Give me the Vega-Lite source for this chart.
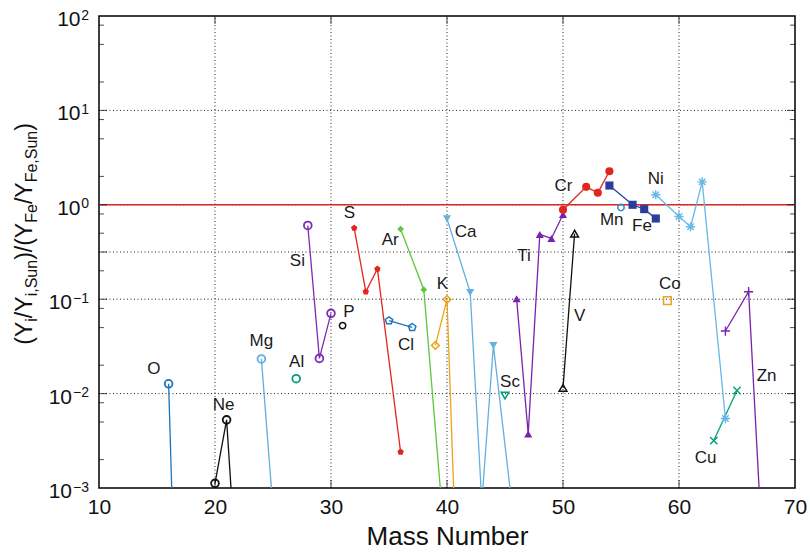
{
  "$schema": "https://vega.github.io/schema/vega-lite/v6.json",
  "width": 696,
  "height": 472,
  "autosize": {"type": "none"},
  "padding": {"left": 99, "top": 16, "right": 15, "bottom": 64},
  "background": "white",
  "config": {
    "view": {"stroke": "#000", "strokeWidth": 1.5},
    "font": "Liberation Sans",
    "axisX": {
      "title": "Mass Number", "titleFontSize": 26, "titleFont": "Liberation Sans",
      "titleFontWeight": "normal", "titleColor": "#111", "titlePadding": 6,
      "labelFontSize": 21, "labelFont": "Liberation Sans", "labelColor": "#111",
      "labelPadding": 8, "labelFlush": false, "labelOverlap": false,
      "ticks": false, "domain": false, "grid": false
    }
  },
  "datasets": {
    "iso": [
      {"el": "O", "A": 16, "v": 0.0127}, {"el": "O", "A": 17, "v": 0.000001},
      {"el": "Ne", "A": 20, "v": 0.00112}, {"el": "Ne", "A": 21, "v": 0.00527}, {"el": "Ne", "A": 22, "v": 0.000066},
      {"el": "Mg", "A": 24, "v": 0.0233}, {"el": "Mg", "A": 25, "v": 0.0006},
      {"el": "Al", "A": 27, "v": 0.0144},
      {"el": "Si", "A": 28, "v": 0.604}, {"el": "Si", "A": 29, "v": 0.0236}, {"el": "Si", "A": 30, "v": 0.0708},
      {"el": "P", "A": 31, "v": 0.0525},
      {"el": "S", "A": 32, "v": 0.567}, {"el": "S", "A": 33, "v": 0.12}, {"el": "S", "A": 34, "v": 0.209}, {"el": "S", "A": 36, "v": 0.00241},
      {"el": "Cl", "A": 35, "v": 0.0592}, {"el": "Cl", "A": 37, "v": 0.0503},
      {"el": "Ar", "A": 36, "v": 0.553}, {"el": "Ar", "A": 38, "v": 0.126}, {"el": "Ar", "A": 40, "v": 0.00014},
      {"el": "K", "A": 39, "v": 0.0324}, {"el": "K", "A": 40, "v": 0.0995}, {"el": "K", "A": 41, "v": 0.00003},
      {"el": "Ca", "A": 40, "v": 0.711}, {"el": "Ca", "A": 42, "v": 0.118}, {"el": "Ca", "A": 43, "v": 0.0007}, {"el": "Ca", "A": 44, "v": 0.0324}, {"el": "Ca", "A": 46, "v": 0.00025},
      {"el": "Sc", "A": 45, "v": 0.00953},
      {"el": "Ti", "A": 46, "v": 0.101}, {"el": "Ti", "A": 47, "v": 0.00374}, {"el": "Ti", "A": 48, "v": 0.485}, {"el": "Ti", "A": 49, "v": 0.44}, {"el": "Ti", "A": 50, "v": 0.79},
      {"el": "V", "A": 50, "v": 0.0115}, {"el": "V", "A": 51, "v": 0.495},
      {"el": "Cr", "A": 50, "v": 0.885}, {"el": "Cr", "A": 52, "v": 1.55}, {"el": "Cr", "A": 53, "v": 1.34}, {"el": "Cr", "A": 54, "v": 2.27},
      {"el": "Mn", "A": 55, "v": 0.937},
      {"el": "Fe", "A": 54, "v": 1.6}, {"el": "Fe", "A": 56, "v": 1.0}, {"el": "Fe", "A": 57, "v": 0.9}, {"el": "Fe", "A": 58, "v": 0.716},
      {"el": "Co", "A": 59, "v": 0.0964},
      {"el": "Ni", "A": 58, "v": 1.28}, {"el": "Ni", "A": 60, "v": 0.752}, {"el": "Ni", "A": 61, "v": 0.585}, {"el": "Ni", "A": 62, "v": 1.75}, {"el": "Ni", "A": 64, "v": 0.00544},
      {"el": "Cu", "A": 63, "v": 0.00318}, {"el": "Cu", "A": 65, "v": 0.0108},
      {"el": "Zn", "A": 64, "v": 0.046}, {"el": "Zn", "A": 66, "v": 0.12}, {"el": "Zn", "A": 67, "v": 0.0006}
    ],
    "labels": [
      {"el": "O", "A": 14.74, "v": 0.0182},
      {"el": "Ne", "A": 20.75, "v": 0.00765},
      {"el": "Mg", "A": 24.0, "v": 0.0357},
      {"el": "Al", "A": 27.04, "v": 0.0214},
      {"el": "Si", "A": 27.1, "v": 0.251},
      {"el": "P", "A": 31.55, "v": 0.0732},
      {"el": "S", "A": 31.58, "v": 0.817},
      {"el": "Ar", "A": 35.11, "v": 0.42},
      {"el": "Cl", "A": 36.47, "v": 0.0324},
      {"el": "K", "A": 39.6, "v": 0.146},
      {"el": "Ca", "A": 41.6, "v": 0.518},
      {"el": "Ti", "A": 46.64, "v": 0.284},
      {"el": "Sc", "A": 45.43, "v": 0.0132},
      {"el": "V", "A": 51.44, "v": 0.0658},
      {"el": "Cr", "A": 50.03, "v": 1.6},
      {"el": "Mn", "A": 54.2, "v": 0.694},
      {"el": "Fe", "A": 56.81, "v": 0.59},
      {"el": "Ni", "A": 57.99, "v": 1.88},
      {"el": "Co", "A": 59.22, "v": 0.145},
      {"el": "Cu", "A": 62.3, "v": 0.00207},
      {"el": "Zn", "A": 67.55, "v": 0.0152}
    ],
    "ylab": [
      {"v": 100, "e": "2"}, {"v": 10, "e": "1"}, {"v": 1, "e": "0"},
      {"v": 0.1, "e": "−1"}, {"v": 0.01, "e": "−2"}, {"v": 0.001, "e": "−3"}
    ],
    "gx": [{"A": 20}, {"A": 30}, {"A": 40}, {"A": 50}, {"A": 60}],
    "gy": [{"v": 10}, {"v": 1}, {"v": 0.316}, {"v": 0.1}, {"v": 0.01}],
    "minor": [
      {"v": 0.002}, {"v": 0.005}, {"v": 0.008},
      {"v": 0.02}, {"v": 0.05}, {"v": 0.08},
      {"v": 0.2}, {"v": 0.5}, {"v": 0.8},
      {"v": 2}, {"v": 5}, {"v": 8},
      {"v": 20}, {"v": 50}, {"v": 80}
    ]
  },
  "layer": [
    {
      "data": {"name": "gx"},
      "mark": {"type": "rule", "strokeDash": [1, 2.5], "color": "#222", "strokeWidth": 1},
      "encoding": {
        "x": {"field": "A", "type": "quantitative", "scale": {"domain": [10, 70], "nice": false, "zero": false}},
        "y": {"datum": 0.001, "type": "quantitative", "scale": {"type": "log", "domain": [0.001, 100], "nice": false}, "axis": null},
        "y2": {"datum": 100}
      }
    },
    {
      "data": {"name": "gy"},
      "mark": {"type": "rule", "strokeDash": [1, 2.5], "color": "#222", "strokeWidth": 1},
      "encoding": {
        "x": {"datum": 10, "type": "quantitative", "scale": {"domain": [10, 70], "nice": false, "zero": false}},
        "x2": {"datum": 70},
        "y": {"field": "v", "type": "quantitative", "scale": {"type": "log", "domain": [0.001, 100], "nice": false}, "axis": null}
      }
    },
    {
      "data": {"values": [{"v": 1}]},
      "mark": {"type": "rule", "color": "#dc2a22", "strokeWidth": 1.6},
      "encoding": {
        "x": {"datum": 10, "type": "quantitative", "scale": {"domain": [10, 70], "nice": false, "zero": false}},
        "x2": {"datum": 70},
        "y": {"field": "v", "type": "quantitative", "scale": {"type": "log", "domain": [0.001, 100], "nice": false}, "axis": null}
      }
    },
    {
      "data": {"name": "iso"},
      "mark": {"type": "line", "clip": true, "strokeWidth": 1.3},
      "encoding": {
        "x": {
          "field": "A", "type": "quantitative", "title": "Mass Number",
          "scale": {"domain": [10, 70], "nice": false, "zero": false},
          "axis": {"title": "Mass Number", "values": [10, 20, 30, 40, 50, 60, 70], "format": "d"}
        },
        "y": {"field": "v", "type": "quantitative", "scale": {"type": "log", "domain": [0.001, 100], "nice": false}, "axis": null},
        "color": {"field": "el", "type": "nominal", "legend": null,
          "scale": {"domain": ["O","Ne","Mg","Al","Si","P","S","Cl","Ar","K","Ca","Sc","Ti","V","Cr","Mn","Fe","Co","Ni","Cu","Zn"],
                    "range": ["#1f74b8","#111111","#62afe0","#00a078","#7d2bb5","#111111","#e0261e","#1f74c0","#5cc83c","#eda31a","#62b0e0","#00a078","#7a22b0","#111111","#e0261e","#2a8bd2","#2b3d9c","#eda31a","#66b8e8","#00a078","#7a22b0"]}},
        "detail": {"field": "el"},
        "order": {"field": "A", "type": "quantitative"}
      }
    },
    {
      "data": {"name": "iso"},
      "transform": [{"filter": {"field": "el", "oneOf": ["O", "Ne", "Mg", "Al", "Si"]}}],
      "mark": {"type": "point", "filled": false, "clip": true, "strokeWidth": 1.8, "opacity": 1, "size": 60},
      "encoding": {
        "x": {"field": "A", "type": "quantitative", "scale": {"domain": [10, 70], "nice": false, "zero": false}},
        "y": {"field": "v", "type": "quantitative", "scale": {"type": "log", "domain": [0.001, 100], "nice": false}, "axis": null},
        "color": {"field": "el", "type": "nominal", "legend": null,
          "scale": {"domain": ["O","Ne","Mg","Al","Si","P","S","Cl","Ar","K","Ca","Sc","Ti","V","Cr","Mn","Fe","Co","Ni","Cu","Zn"],
                    "range": ["#1f74b8","#111111","#62afe0","#00a078","#7d2bb5","#111111","#e0261e","#1f74c0","#5cc83c","#eda31a","#62b0e0","#00a078","#7a22b0","#111111","#e0261e","#2a8bd2","#2b3d9c","#eda31a","#66b8e8","#00a078","#7a22b0"]}},
        "shape": {"field": "el", "type": "nominal", "legend": null,
          "scale": {"domain": ["O","Ne","Mg","Al","Si","P","S","Cl","Ar","K","Ca","Sc","Ti","V","Cr","Mn","Fe","Co","Ni","Cu","Zn"],
                    "range": ["circle","circle","circle","circle","circle","circle","M0,-1L0.951,-0.309L0.588,0.809L-0.588,0.809L-0.951,-0.309Z","M0,-1L0.951,-0.309L0.588,0.809L-0.588,0.809L-0.951,-0.309Z","diamond","diamond","triangle-down","triangle-down","triangle-up","triangle-up","circle","circle","square","square","M-1,0L1,0M0,-1L0,1M-0.7,-0.7L0.7,0.7M-0.7,0.7L0.7,-0.7","M-0.8,-0.8L0.8,0.8M-0.8,0.8L0.8,-0.8","M-1,0L1,0M0,-1L0,1"]}}
      }
    },
    {
      "data": {"name": "iso"},
      "transform": [{"filter": {"field": "el", "oneOf": ["P", "Mn"]}}],
      "mark": {"type": "point", "filled": false, "clip": true, "strokeWidth": 1.5, "opacity": 1, "size": 40},
      "encoding": {
        "x": {"field": "A", "type": "quantitative", "scale": {"domain": [10, 70], "nice": false, "zero": false}},
        "y": {"field": "v", "type": "quantitative", "scale": {"type": "log", "domain": [0.001, 100], "nice": false}, "axis": null},
        "color": {"field": "el", "type": "nominal", "legend": null,
          "scale": {"domain": ["O","Ne","Mg","Al","Si","P","S","Cl","Ar","K","Ca","Sc","Ti","V","Cr","Mn","Fe","Co","Ni","Cu","Zn"],
                    "range": ["#1f74b8","#111111","#62afe0","#00a078","#7d2bb5","#111111","#e0261e","#1f74c0","#5cc83c","#eda31a","#62b0e0","#00a078","#7a22b0","#111111","#e0261e","#2a8bd2","#2b3d9c","#eda31a","#66b8e8","#00a078","#7a22b0"]}},
        "shape": {"field": "el", "type": "nominal", "legend": null,
          "scale": {"domain": ["O","Ne","Mg","Al","Si","P","S","Cl","Ar","K","Ca","Sc","Ti","V","Cr","Mn","Fe","Co","Ni","Cu","Zn"],
                    "range": ["circle","circle","circle","circle","circle","circle","M0,-1L0.951,-0.309L0.588,0.809L-0.588,0.809L-0.951,-0.309Z","M0,-1L0.951,-0.309L0.588,0.809L-0.588,0.809L-0.951,-0.309Z","diamond","diamond","triangle-down","triangle-down","triangle-up","triangle-up","circle","circle","square","square","M-1,0L1,0M0,-1L0,1M-0.7,-0.7L0.7,0.7M-0.7,0.7L0.7,-0.7","M-0.8,-0.8L0.8,0.8M-0.8,0.8L0.8,-0.8","M-1,0L1,0M0,-1L0,1"]}}
      }
    },
    {
      "data": {"name": "iso"},
      "transform": [{"filter": {"field": "el", "oneOf": ["Cl", "K", "Sc", "V", "Co"]}}],
      "mark": {"type": "point", "filled": false, "clip": true, "strokeWidth": 1.5, "opacity": 1, "size": 60},
      "encoding": {
        "x": {"field": "A", "type": "quantitative", "scale": {"domain": [10, 70], "nice": false, "zero": false}},
        "y": {"field": "v", "type": "quantitative", "scale": {"type": "log", "domain": [0.001, 100], "nice": false}, "axis": null},
        "color": {"field": "el", "type": "nominal", "legend": null,
          "scale": {"domain": ["O","Ne","Mg","Al","Si","P","S","Cl","Ar","K","Ca","Sc","Ti","V","Cr","Mn","Fe","Co","Ni","Cu","Zn"],
                    "range": ["#1f74b8","#111111","#62afe0","#00a078","#7d2bb5","#111111","#e0261e","#1f74c0","#5cc83c","#eda31a","#62b0e0","#00a078","#7a22b0","#111111","#e0261e","#2a8bd2","#2b3d9c","#eda31a","#66b8e8","#00a078","#7a22b0"]}},
        "shape": {"field": "el", "type": "nominal", "legend": null,
          "scale": {"domain": ["O","Ne","Mg","Al","Si","P","S","Cl","Ar","K","Ca","Sc","Ti","V","Cr","Mn","Fe","Co","Ni","Cu","Zn"],
                    "range": ["circle","circle","circle","circle","circle","circle","M0,-1L0.951,-0.309L0.588,0.809L-0.588,0.809L-0.951,-0.309Z","M0,-1L0.951,-0.309L0.588,0.809L-0.588,0.809L-0.951,-0.309Z","diamond","diamond","triangle-down","triangle-down","triangle-up","triangle-up","circle","circle","square","square","M-1,0L1,0M0,-1L0,1M-0.7,-0.7L0.7,0.7M-0.7,0.7L0.7,-0.7","M-0.8,-0.8L0.8,0.8M-0.8,0.8L0.8,-0.8","M-1,0L1,0M0,-1L0,1"]}}
      }
    },
    {
      "data": {"name": "iso"},
      "transform": [{"filter": {"field": "el", "oneOf": ["Ni", "Cu", "Zn"]}}],
      "mark": {"type": "point", "filled": false, "clip": true, "strokeWidth": 1.4, "opacity": 1, "size": 85},
      "encoding": {
        "x": {"field": "A", "type": "quantitative", "scale": {"domain": [10, 70], "nice": false, "zero": false}},
        "y": {"field": "v", "type": "quantitative", "scale": {"type": "log", "domain": [0.001, 100], "nice": false}, "axis": null},
        "color": {"field": "el", "type": "nominal", "legend": null,
          "scale": {"domain": ["O","Ne","Mg","Al","Si","P","S","Cl","Ar","K","Ca","Sc","Ti","V","Cr","Mn","Fe","Co","Ni","Cu","Zn"],
                    "range": ["#1f74b8","#111111","#62afe0","#00a078","#7d2bb5","#111111","#e0261e","#1f74c0","#5cc83c","#eda31a","#62b0e0","#00a078","#7a22b0","#111111","#e0261e","#2a8bd2","#2b3d9c","#eda31a","#66b8e8","#00a078","#7a22b0"]}},
        "shape": {"field": "el", "type": "nominal", "legend": null,
          "scale": {"domain": ["O","Ne","Mg","Al","Si","P","S","Cl","Ar","K","Ca","Sc","Ti","V","Cr","Mn","Fe","Co","Ni","Cu","Zn"],
                    "range": ["circle","circle","circle","circle","circle","circle","M0,-1L0.951,-0.309L0.588,0.809L-0.588,0.809L-0.951,-0.309Z","M0,-1L0.951,-0.309L0.588,0.809L-0.588,0.809L-0.951,-0.309Z","diamond","diamond","triangle-down","triangle-down","triangle-up","triangle-up","circle","circle","square","square","M-1,0L1,0M0,-1L0,1M-0.7,-0.7L0.7,0.7M-0.7,0.7L0.7,-0.7","M-0.8,-0.8L0.8,0.8M-0.8,0.8L0.8,-0.8","M-1,0L1,0M0,-1L0,1"]}}
      }
    },
    {
      "data": {"name": "iso"},
      "transform": [{"filter": {"field": "el", "oneOf": ["S", "Ar"]}}],
      "mark": {"type": "point", "filled": true, "clip": true, "opacity": 1, "size": 45},
      "encoding": {
        "x": {"field": "A", "type": "quantitative", "scale": {"domain": [10, 70], "nice": false, "zero": false}},
        "y": {"field": "v", "type": "quantitative", "scale": {"type": "log", "domain": [0.001, 100], "nice": false}, "axis": null},
        "color": {"field": "el", "type": "nominal", "legend": null,
          "scale": {"domain": ["O","Ne","Mg","Al","Si","P","S","Cl","Ar","K","Ca","Sc","Ti","V","Cr","Mn","Fe","Co","Ni","Cu","Zn"],
                    "range": ["#1f74b8","#111111","#62afe0","#00a078","#7d2bb5","#111111","#e0261e","#1f74c0","#5cc83c","#eda31a","#62b0e0","#00a078","#7a22b0","#111111","#e0261e","#2a8bd2","#2b3d9c","#eda31a","#66b8e8","#00a078","#7a22b0"]}},
        "shape": {"field": "el", "type": "nominal", "legend": null,
          "scale": {"domain": ["O","Ne","Mg","Al","Si","P","S","Cl","Ar","K","Ca","Sc","Ti","V","Cr","Mn","Fe","Co","Ni","Cu","Zn"],
                    "range": ["circle","circle","circle","circle","circle","circle","M0,-1L0.951,-0.309L0.588,0.809L-0.588,0.809L-0.951,-0.309Z","M0,-1L0.951,-0.309L0.588,0.809L-0.588,0.809L-0.951,-0.309Z","diamond","diamond","triangle-down","triangle-down","triangle-up","triangle-up","circle","circle","square","square","M-1,0L1,0M0,-1L0,1M-0.7,-0.7L0.7,0.7M-0.7,0.7L0.7,-0.7","M-0.8,-0.8L0.8,0.8M-0.8,0.8L0.8,-0.8","M-1,0L1,0M0,-1L0,1"]}}
      }
    },
    {
      "data": {"name": "iso"},
      "transform": [{"filter": {"field": "el", "oneOf": ["Ca", "Ti", "Cr", "Fe"]}}],
      "mark": {"type": "point", "filled": true, "clip": true, "opacity": 1, "size": 66},
      "encoding": {
        "x": {"field": "A", "type": "quantitative", "scale": {"domain": [10, 70], "nice": false, "zero": false}},
        "y": {"field": "v", "type": "quantitative", "scale": {"type": "log", "domain": [0.001, 100], "nice": false}, "axis": null},
        "color": {"field": "el", "type": "nominal", "legend": null,
          "scale": {"domain": ["O","Ne","Mg","Al","Si","P","S","Cl","Ar","K","Ca","Sc","Ti","V","Cr","Mn","Fe","Co","Ni","Cu","Zn"],
                    "range": ["#1f74b8","#111111","#62afe0","#00a078","#7d2bb5","#111111","#e0261e","#1f74c0","#5cc83c","#eda31a","#62b0e0","#00a078","#7a22b0","#111111","#e0261e","#2a8bd2","#2b3d9c","#eda31a","#66b8e8","#00a078","#7a22b0"]}},
        "shape": {"field": "el", "type": "nominal", "legend": null,
          "scale": {"domain": ["O","Ne","Mg","Al","Si","P","S","Cl","Ar","K","Ca","Sc","Ti","V","Cr","Mn","Fe","Co","Ni","Cu","Zn"],
                    "range": ["circle","circle","circle","circle","circle","circle","M0,-1L0.951,-0.309L0.588,0.809L-0.588,0.809L-0.951,-0.309Z","M0,-1L0.951,-0.309L0.588,0.809L-0.588,0.809L-0.951,-0.309Z","diamond","diamond","triangle-down","triangle-down","triangle-up","triangle-up","circle","circle","square","square","M-1,0L1,0M0,-1L0,1M-0.7,-0.7L0.7,0.7M-0.7,0.7L0.7,-0.7","M-0.8,-0.8L0.8,0.8M-0.8,0.8L0.8,-0.8","M-1,0L1,0M0,-1L0,1"]}}
      }
    },
    {
      "data": {"name": "labels"},
      "mark": {"type": "text", "fontSize": 17, "font": "Liberation Sans", "color": "#1a1a1a", "align": "center", "baseline": "middle"},
      "encoding": {
        "x": {"field": "A", "type": "quantitative", "scale": {"domain": [10, 70], "nice": false, "zero": false}},
        "y": {"field": "v", "type": "quantitative", "scale": {"type": "log", "domain": [0.001, 100], "nice": false}, "axis": null},
        "text": {"field": "el"}
      }
    },
    {
      "data": {"name": "gx"},
      "mark": {"type": "tick", "orient": "vertical", "size": 16, "thickness": 1, "color": "#000", "clip": true},
      "encoding": {
        "x": {"field": "A", "type": "quantitative", "scale": {"domain": [10, 70], "nice": false, "zero": false}},
        "y": {"datum": 0.001, "type": "quantitative", "scale": {"type": "log", "domain": [0.001, 100], "nice": false}, "axis": null}
      }
    },
    {
      "data": {"name": "gx"},
      "mark": {"type": "tick", "orient": "vertical", "size": 16, "thickness": 1, "color": "#000", "clip": true},
      "encoding": {
        "x": {"field": "A", "type": "quantitative", "scale": {"domain": [10, 70], "nice": false, "zero": false}},
        "y": {"datum": 100, "type": "quantitative", "scale": {"type": "log", "domain": [0.001, 100], "nice": false}, "axis": null}
      }
    },
    {
      "data": {"name": "gy"},
      "mark": {"type": "tick", "orient": "horizontal", "size": 16, "thickness": 1, "color": "#000", "clip": true},
      "encoding": {
        "x": {"datum": 10, "type": "quantitative", "scale": {"domain": [10, 70], "nice": false, "zero": false}},
        "y": {"field": "v", "type": "quantitative", "scale": {"type": "log", "domain": [0.001, 100], "nice": false}, "axis": null}
      }
    },
    {
      "data": {"name": "gy"},
      "mark": {"type": "tick", "orient": "horizontal", "size": 16, "thickness": 1, "color": "#000", "clip": true},
      "encoding": {
        "x": {"datum": 70, "type": "quantitative", "scale": {"domain": [10, 70], "nice": false, "zero": false}},
        "y": {"field": "v", "type": "quantitative", "scale": {"type": "log", "domain": [0.001, 100], "nice": false}, "axis": null}
      }
    },
    {
      "data": {"name": "minor"},
      "mark": {"type": "tick", "orient": "horizontal", "size": 10, "thickness": 1, "color": "#000", "clip": true},
      "encoding": {
        "x": {"datum": 10, "type": "quantitative", "scale": {"domain": [10, 70], "nice": false, "zero": false}},
        "y": {"field": "v", "type": "quantitative", "scale": {"type": "log", "domain": [0.001, 100], "nice": false}, "axis": null}
      }
    },
    {
      "data": {"name": "minor"},
      "mark": {"type": "tick", "orient": "horizontal", "size": 10, "thickness": 1, "color": "#000", "clip": true},
      "encoding": {
        "x": {"datum": 70, "type": "quantitative", "scale": {"domain": [10, 70], "nice": false, "zero": false}},
        "y": {"field": "v", "type": "quantitative", "scale": {"type": "log", "domain": [0.001, 100], "nice": false}, "axis": null}
      }
    },
    {
      "data": {"name": "ylab"},
      "transform": [{"filter": "datum.v >= 1"}],
      "mark": {"type": "text", "text": "10", "fontSize": 21, "font": "Liberation Sans", "color": "#111", "align": "right", "baseline": "alphabetic", "dx": -18.5, "dy": 10},
      "encoding": {
        "x": {"datum": 10, "type": "quantitative", "scale": {"domain": [10, 70], "nice": false, "zero": false}},
        "y": {"field": "v", "type": "quantitative", "scale": {"type": "log", "domain": [0.001, 100], "nice": false}, "axis": null}
      }
    },
    {
      "data": {"name": "ylab"},
      "transform": [{"filter": "datum.v < 1"}],
      "mark": {"type": "text", "text": "10", "fontSize": 21, "font": "Liberation Sans", "color": "#111", "align": "right", "baseline": "alphabetic", "dx": -27, "dy": 10},
      "encoding": {
        "x": {"datum": 10, "type": "quantitative", "scale": {"domain": [10, 70], "nice": false, "zero": false}},
        "y": {"field": "v", "type": "quantitative", "scale": {"type": "log", "domain": [0.001, 100], "nice": false}, "axis": null}
      }
    },
    {
      "data": {"name": "ylab"},
      "mark": {"type": "text", "fontSize": 14, "font": "Liberation Sans", "color": "#111", "align": "right", "baseline": "alphabetic", "dx": -10, "dy": 3.5},
      "encoding": {
        "x": {"datum": 10, "type": "quantitative", "scale": {"domain": [10, 70], "nice": false, "zero": false}},
        "y": {"field": "v", "type": "quantitative", "scale": {"type": "log", "domain": [0.001, 100], "nice": false}, "axis": null},
        "text": {"field": "e"}
      }
    },
    {
      "data": {"values": [{}]},
      "layer": [
        {"mark": {"type": "text", "text": "(Y", "angle": 270, "fontSize": 23, "font": "Liberation Sans", "color": "#111", "align": "left", "baseline": "alphabetic", "dx": 0, "dy": -67}},
        {"mark": {"type": "text", "text": "i", "angle": 270, "fontSize": 16, "font": "Liberation Sans", "color": "#111", "align": "left", "baseline": "alphabetic", "dx": 23, "dy": -62}},
        {"mark": {"type": "text", "text": "/Y", "angle": 270, "fontSize": 23, "font": "Liberation Sans", "color": "#111", "align": "left", "baseline": "alphabetic", "dx": 26.5, "dy": -67}},
        {"mark": {"type": "text", "text": "i,Sun", "angle": 270, "fontSize": 16, "font": "Liberation Sans", "color": "#111", "align": "left", "baseline": "alphabetic", "dx": 48.3, "dy": -62}},
        {"mark": {"type": "text", "text": ")/(Y", "angle": 270, "fontSize": 23, "font": "Liberation Sans", "color": "#111", "align": "left", "baseline": "alphabetic", "dx": 84.8, "dy": -67}},
        {"mark": {"type": "text", "text": "Fe", "angle": 270, "fontSize": 16, "font": "Liberation Sans", "color": "#111", "align": "left", "baseline": "alphabetic", "dx": 121.9, "dy": -62}},
        {"mark": {"type": "text", "text": "/Y", "angle": 270, "fontSize": 23, "font": "Liberation Sans", "color": "#111", "align": "left", "baseline": "alphabetic", "dx": 140.6, "dy": -67}},
        {"mark": {"type": "text", "text": "Fe,Sun", "angle": 270, "fontSize": 16, "font": "Liberation Sans", "color": "#111", "align": "left", "baseline": "alphabetic", "dx": 162.3, "dy": -62}},
        {"mark": {"type": "text", "text": ")", "angle": 270, "fontSize": 23, "font": "Liberation Sans", "color": "#111", "align": "left", "baseline": "alphabetic", "dx": 213.9, "dy": -67}}
      ],
      "encoding": {
        "x": {"datum": 10, "type": "quantitative", "scale": {"domain": [10, 70], "nice": false, "zero": false}},
        "y": {"datum": 0.033, "type": "quantitative", "scale": {"type": "log", "domain": [0.001, 100], "nice": false}, "axis": null}
      }
    }
  ]
}
